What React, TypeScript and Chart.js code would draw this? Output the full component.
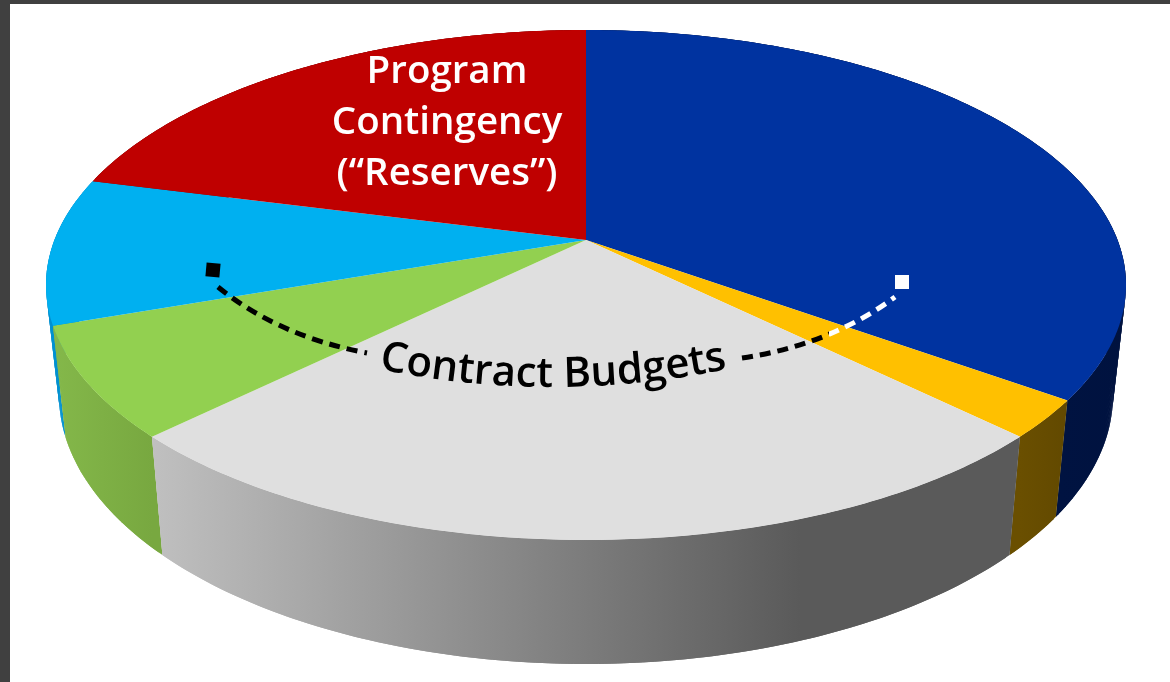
import React, { useEffect, useRef } from "react";
import { Chart, registerables } from "chart.js";

Chart.register(...registerables);

const categories = ["Contract A", "Contract B", "Contract C", "Contract D", "Contract E", "Program Contingency"];
const shares = [34.9, 2.4, 25.4, 7.0, 9.3, 21.0];
const topColors = ["#0033a0", "#ffc000", "#dfdfdf", "#92d050", "#00b0f0", "#bf0000"];
const wallLight = ["#001a50", "#6a4f00", "#c0c0c0", "#84b84a", "#0090d0", "#800000"];
const wallDark = ["#00123f", "#624900", "#5a5a5a", "#78a840", "#0090d0", "#800000"];
const reserveLines = ["Program", "Contingency", "(“Reserves”)"];
const contractLabel = "Contract Budgets";

// Projection of the pie disc into the tilted ellipse seen in the picture
const CX = 586, CY = 285, RX = 540, RY = 255, APEX_Y = 240;
const BOTTOM_RX = 527, BOTTOM_RY = 269, BOTTOM_CY = 395;
const OFF = (APEX_Y - CY) / RY;
const P = OFF;
const AX = RX * Math.sqrt(1 - OFF * OFF);

function rimTop(theta: number, r = 1) {
  const u = Math.sin(theta) * r, v = -Math.cos(theta) * r;
  const w = 1 + P * v;
  return { x: CX + (AX * u) / w, y: CY + (RY * v + (APEX_Y - CY)) / w };
}
function rimBottom(theta: number) {
  const p = rimTop(theta);
  return { x: CX + ((p.x - CX) * BOTTOM_RX) / RX, y: BOTTOM_CY + ((p.y - CY) * BOTTOM_RY) / RY };
}
function samples(a: number, b: number) {
  const n = Math.max(2, Math.ceil(Math.abs(b - a) / 0.01));
  const out: number[] = [];
  for (let i = 0; i <= n; i++) out.push(a + ((b - a) * i) / n);
  return out;
}

const pie3d = {
  id: "pie3d",
  beforeDatasetDraw(chart: any) {
    const { ctx } = chart;
    const arcs = chart.getDatasetMeta(0).data;
    const spans = arcs.map((arc: any, i: number) => ({
      i,
      a: arc.startAngle + Math.PI / 2,
      b: arc.endAngle + Math.PI / 2,
    }));
    const depthOrder = [...spans].sort(
      (s: any, t: any) => Math.max(...samples(s.a, s.b).map((x) => rimTop(x).y)) - Math.max(...samples(t.a, t.b).map((x) => rimTop(x).y))
    );
    ctx.save();
    for (const s of depthOrder) {
      const ts = samples(s.a, s.b);
      const g = ctx.createLinearGradient(
        Math.min(...ts.map((t) => rimTop(t).x)), 0,
        s.i === 2 ? 800 : Math.max(...ts.map((t) => rimTop(t).x)), 0
      );
      g.addColorStop(0, wallLight[s.i]);
      g.addColorStop(1, wallDark[s.i]);
      ctx.fillStyle = g;
      // the wall is a ruled surface: each strip joins the two rims
      for (let k = 0; k < ts.length - 1; k++) {
        const e = Math.min(k + 2, ts.length - 1);
        const p1 = rimTop(ts[k]), p2 = rimTop(ts[e]), q2 = rimBottom(ts[e]), q1 = rimBottom(ts[k]);
        ctx.beginPath();
        ctx.moveTo(p1.x, p1.y);
        ctx.lineTo(p2.x, p2.y);
        ctx.lineTo(q2.x, q2.y);
        ctx.lineTo(q1.x, q1.y);
        ctx.closePath();
        ctx.fill();
      }
    }
    for (const s of spans) {
      ctx.beginPath();
      const c = rimTop(0, 0);
      ctx.moveTo(c.x, c.y);
      samples(s.a, s.b).forEach((t) => {
        const p = rimTop(t);
        ctx.lineTo(p.x, p.y);
      });
      ctx.closePath();
      ctx.fillStyle = topColors[s.i];
      ctx.fill();
    }
    ctx.restore();
    return false;
  },
  afterDatasetsDraw(chart: any) {
    const { ctx } = chart;
    ctx.save();
    // reserve label
    ctx.fillStyle = "#ffffff";
    ctx.font = "600 38.5px 'Open Sans'";
    ctx.textAlign = "center";
    ctx.textBaseline = "alphabetic";
    reserveLines.forEach((line, i) => ctx.fillText(line, 447, 83 + i * 51));

    // leader lines
    ctx.lineWidth = 5;
    ctx.setLineDash([11, 7]);
    ctx.strokeStyle = "#000000";
    ctx.beginPath();
    ctx.moveTo(218, 287);
    ctx.quadraticCurveTo(278, 336, 367, 353);
    ctx.stroke();
    const right = (color: string, x0: number, x1: number) => {
      ctx.save();
      ctx.beginPath();
      ctx.rect(x0, 250, x1 - x0, 130);
      ctx.clip();
      ctx.strokeStyle = color;
      ctx.beginPath();
      ctx.moveTo(742, 358);
      ctx.quadraticCurveTo(830, 345, 895, 297);
      ctx.stroke();
      ctx.restore();
    };
    right("#000000", 730, 829);
    right("#ffffff", 829, 910);
    ctx.setLineDash([]);
    ctx.fillStyle = "#ffffff";
    ctx.fillRect(895, 275, 14, 14);
    ctx.save();
    ctx.translate(213, 270);
    ctx.rotate((5 * Math.PI) / 180);
    ctx.fillStyle = "#000000";
    ctx.fillRect(-7, -7, 14, 14);
    ctx.restore();

    // curved label
    ctx.font = "600 42px 'Open Sans'";
    ctx.fillStyle = "#000000";
    ctx.textAlign = "left";
    const R = 850, ox = 553, oy = 387 - R;
    const total = ctx.measureText(contractLabel).width;
    let run = -total / 2;
    for (let i = 0; i < contractLabel.length; i++) {
      const ch = contractLabel[i];
      const adv = ctx.measureText(contractLabel.slice(0, i + 1)).width - ctx.measureText(contractLabel.slice(0, i)).width;
      const ang = (run + adv / 2) / R;
      ctx.save();
      ctx.translate(ox + Math.sin(ang) * R, oy + Math.cos(ang) * R);
      ctx.rotate(-ang);
      ctx.fillText(ch, -adv / 2, 0);
      ctx.restore();
      run += adv;
    }
    ctx.restore();
  },
};

export default function App() {
  const ref = useRef<HTMLCanvasElement>(null);
  useEffect(() => {
    const chart = new Chart(ref.current!, {
      type: "pie",
      data: { labels: categories, datasets: [{ data: shares, backgroundColor: topColors, borderWidth: 0 }] },
      options: {
        responsive: false,
        animation: false,
        plugins: { legend: { display: false }, tooltip: { enabled: false } },
      },
      plugins: [pie3d],
    } as any);
    return () => chart.destroy();
  }, []);
  return (
    <div style={{ position: "fixed", left: 0, top: 0, width: 1170, height: 682, background: "#ffffff", overflow: "hidden" }}>
      <div style={{ position: "absolute", left: 0, top: 0, width: 1170, height: 4, background: "#404040" }} />
      <div style={{ position: "absolute", left: 0, top: 0, width: 10, height: 682, background: "#404040" }} />
      <canvas ref={ref} width={1170} height={682} style={{ position: "absolute", left: 0, top: 0, display: "block" }} />
    </div>
  );
}
